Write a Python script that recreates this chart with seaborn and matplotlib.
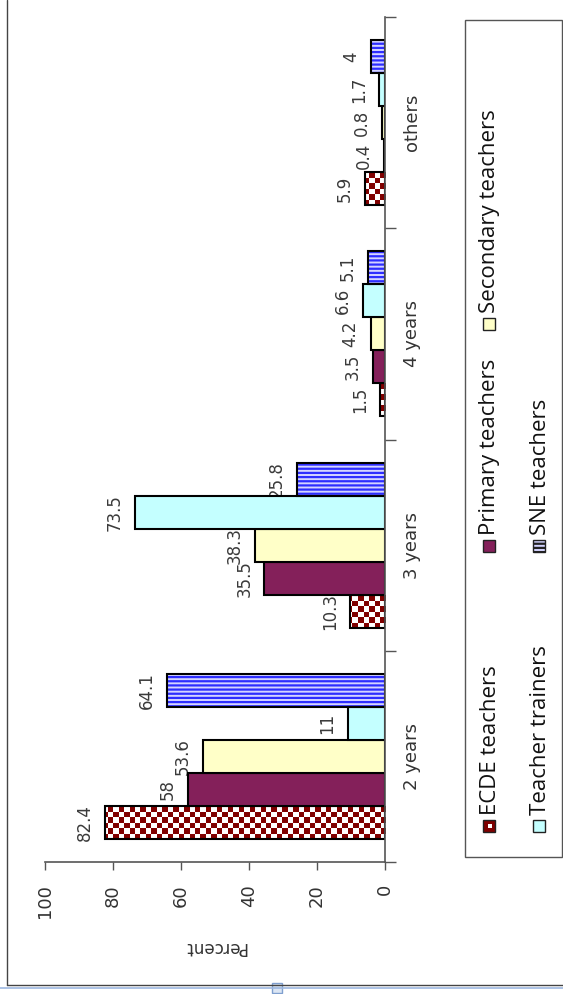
import numpy as np
import pandas as pd
import matplotlib
matplotlib.use("Agg")
import matplotlib.pyplot as plt
from matplotlib.colors import ListedColormap
from matplotlib.patches import Rectangle
from matplotlib.lines import Line2D
import seaborn as sns

# data
levels = ['2 years', '3 years', '4 years', 'others']
groups = ['ECDE teachers', 'Primary teachers', 'Secondary teachers',
          'Teacher trainers', 'SNE teachers']
ecde = [82.4, 10.3, 1.5, 5.9]
primary = [58, 35.5, 3.5, 0.4]
secondary = [53.6, 38.3, 4.2, 0.8]
trainers = [11, 73.5, 6.6, 1.7]
sne = [64.1, 25.8, 5.1, 4]

colors = ['#ffffff', '#84205a', '#ffffc8', '#c4ffff', '#d4d4ff']

sns.set_style('white')
plt.rcParams['font.family'] = ['DejaVu Sans']
plt.rcParams['hatch.linewidth'] = 1.6

W, H = 563, 994
fig = plt.figure(figsize=(W / 100, H / 100), dpi=100)


def fx(x):
    return x / W


def fy(y):
    return 1 - y / H


ax = fig.add_axes([fx(45), fy(862), (385 - 45) / W, (862 - 17) / H])

series = [ecde, primary, secondary, trainers, sne]
df = pd.DataFrame({
    'level': np.tile(levels, len(groups)),
    'group': np.repeat(groups, len(levels)),
    'value': np.concatenate(series),
})

sns.barplot(data=df, x='value', y='level', hue='group', orient='h',
            order=levels, hue_order=groups, palette=colors, saturation=1,
            width=0.78, edgecolor='black', linewidth=1.5, legend=False,
            ax=ax)

for cont in ax.containers:
    for p in cont.patches:
        p.set_zorder(2)

# checkerboard fill for the ECDE bars
checker = ListedColormap(['white', '#800000'])
sq = 1.6
for p in ax.containers[0].patches:
    w, y0, h = p.get_width(), p.get_y(), p.get_height()
    nx = max(1, int(np.ceil(w / sq)))
    board = np.add.outer(np.arange(6), np.arange(nx)) % 2
    im = ax.imshow(board, cmap=checker, extent=(0, nx * sq, y0, y0 + h),
                   origin='lower', interpolation='nearest', aspect='auto',
                   zorder=1.9)
    im.set_clip_path(p)
    p.set_facecolor('none')

# striped fill for the SNE bars
for p in ax.containers[4].patches:
    ax.add_patch(Rectangle((p.get_x(), p.get_y()), p.get_width(), p.get_height(),
                           facecolor='#d4d4ff', edgecolor='#2d2dff',
                           hatch='----', linewidth=0, zorder=1.9))
    p.set_facecolor('none')

# value labels, sitting beyond the bar ends and under the bars
for cont, vals in zip(ax.containers, series):
    for p, v in zip(cont.patches, vals):
        ax.annotate(f'{v:g}', (p.get_x() + p.get_width(), p.get_y() + p.get_height() / 2),
                    xytext=(-8, 0), textcoords='offset points', rotation=90,
                    ha='right', va='center', fontsize=12, color='#3a3a3a',
                    zorder=1.5)

ax.set_xlim(100, 0)
ax.set_ylim(-0.5, 3.5)
ax.set_aspect('auto')

ax.set_xticks(range(0, 101, 20))
ax.tick_params(axis='x', length=6, width=1, color='#555555', pad=10,
               labelsize=13, labelcolor='#333333', bottom=True)
for t in ax.get_xticklabels():
    t.set_rotation(90)

ax.yaxis.tick_right()
ax.set_yticks(range(len(levels)))
ax.set_yticklabels(levels, rotation=90, va='center', fontsize=13,
                   color='#333333')
ax.set_yticks(np.arange(-0.5, len(levels), 1), minor=True)
ax.tick_params(axis='y', which='major', length=0, pad=13)
ax.tick_params(axis='y', which='minor', length=8, width=1, color='#555555',
               right=True, left=False)

ax.set_xlabel('Percent', rotation=180, fontsize=12, color='#333333',
              labelpad=14)
ax.set_ylabel('')
for s in ['left', 'top']:
    ax.spines[s].set_visible(False)
for s in ['right', 'bottom']:
    ax.spines[s].set_color('#555555')
    ax.spines[s].set_linewidth(1.2)

# legend, drawn rotated by hand
fig.add_artist(Rectangle((fx(465), fy(857)), 97 / W, 837 / H,
                         transform=fig.transFigure, facecolor='none',
                         edgecolor='#555555', linewidth=1))
entries = [(489, 832), (489, 552), (489, 330), (539, 832), (539, 552)]
for i, (name, (cx, yb)) in enumerate(zip(groups, entries)):
    s = 12
    fc = '#800000' if i == 0 else colors[i]
    fig.add_artist(Rectangle((fx(cx - s / 2), fy(yb)), s / W, s / H,
                             transform=fig.transFigure, facecolor=fc,
                             edgecolor='#222222', linewidth=1,
                             hatch='----' if i == 4 else None))
    if i == 0:
        fig.add_artist(Rectangle((fx(cx - 1), fy(yb - 4)), 4 / W, 4 / H,
                                 transform=fig.transFigure, facecolor='white',
                                 linewidth=0))
    fig.text(fx(cx + 1), fy(yb - s - 5), name, rotation=90,
             rotation_mode='anchor', ha='left', va='center',
             fontsize=16, family=['Open Sans', 'DejaVu Sans'], color='#111111')

# page frame
fig.add_artist(Line2D([fx(7), fx(7)], [fy(0), fy(985)], color='#444444',
                      linewidth=1, transform=fig.transFigure))
fig.add_artist(Line2D([fx(7), fx(563)], [fy(985), fy(985)], color='#444444',
                      linewidth=1, transform=fig.transFigure))
fig.add_artist(Line2D([0, 1], [fy(988), fy(988)], color='#9db8e0',
                      linewidth=1.2, transform=fig.transFigure))
fig.add_artist(Rectangle((fx(272), fy(993)), 10 / W, 10 / H,
                         transform=fig.transFigure, facecolor='#dce6f4',
                         edgecolor='#7f9fcf', linewidth=1))

fig.savefig('out.png', dpi=100)
